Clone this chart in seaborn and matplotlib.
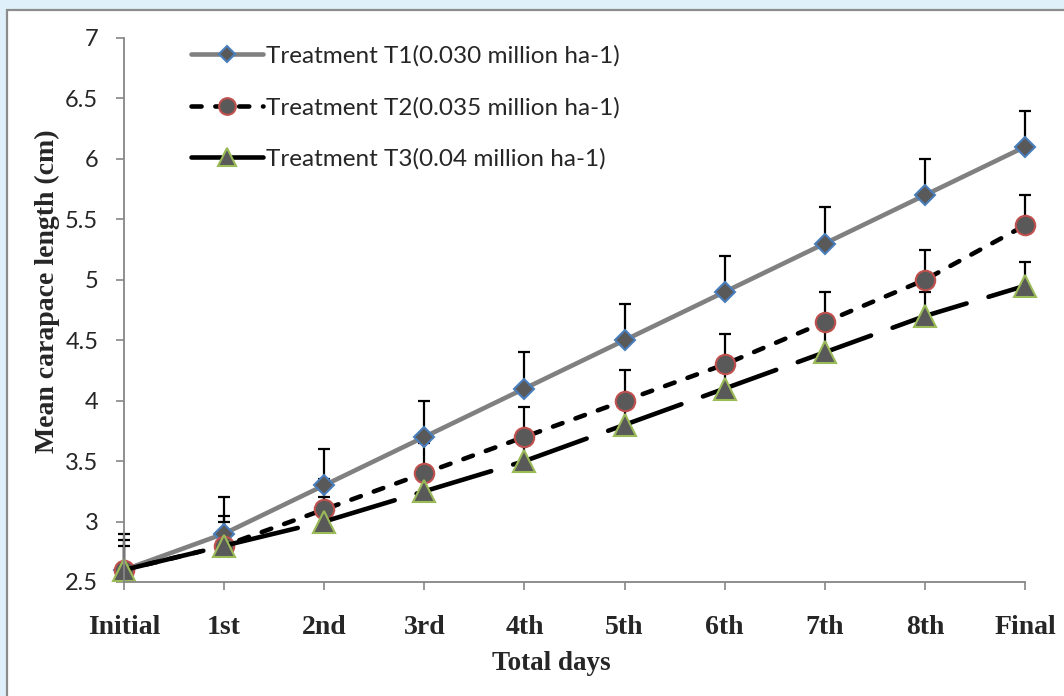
import seaborn as sns
import matplotlib.pyplot as plt
import matplotlib.patches as mpatches
import pandas as pd

days = ["Initial", "1st", "2nd", "3rd", "4th", "5th", "6th", "7th", "8th", "Final"]

t1_label = "Treatment T1(0.030 million ha-1)"
t2_label = "Treatment T2(0.035 million ha-1)"
t3_label = "Treatment T3(0.04 million ha-1)"

t1_mean = [2.6, 2.9, 3.3, 3.7, 4.1, 4.5, 4.9, 5.3, 5.7, 6.1]
t2_mean = [2.6, 2.8, 3.1, 3.4, 3.7, 4.0, 4.3, 4.65, 5.0, 5.45]
t3_mean = [2.6, 2.8, 3.0, 3.25, 3.5, 3.8, 4.1, 4.4, 4.7, 4.95]

t1_err = [0.3] * 10
t2_err = [0.25] * 10
t3_err = [0.2] * 10

y_ticks = [2.5, 3, 3.5, 4, 4.5, 5, 5.5, 6, 6.5, 7]

sns.set_style("white")
plt.rcParams["font.family"] = ["Lato", "DejaVu Sans"]

df = pd.DataFrame({"pos": range(len(days)), "day": days,
                   "T1": t1_mean, "T2": t2_mean, "T3": t3_mean})

fig = plt.figure(figsize=(10.64, 6.96), dpi=100)
fig.patch.set_facecolor("#DFF0FA")
# white chart panel with grey border
panel = mpatches.Rectangle((7 / 1064, -0.02), 1.1, 1 - 10 / 696 + 0.02,
                           transform=fig.transFigure, facecolor="white",
                           edgecolor="#8C8C8C", linewidth=1.6, zorder=-5)
fig.add_artist(panel)
ax = fig.add_axes([124 / 1064, 1 - 582 / 696, (1025 - 124) / 1064, (582 - 38) / 696])
ax.patch.set_alpha(0)

# error bars (upper only)
for means, errs in [(t1_mean, t1_err), (t2_mean, t2_err), (t3_mean, t3_err)]:
    ax.errorbar(df["pos"], means, yerr=[[0] * len(errs), errs], fmt="none",
                ecolor="black", elinewidth=1.6, capsize=4.3, capthick=1.6,
                zorder=1.5, clip_on=False)

face = "#595959"
sns.lineplot(data=df, x="pos", y="T1", ax=ax, color="#808080", linewidth=3.3,
             marker="D", markersize=10, markerfacecolor=face,
             markeredgecolor="#4A7EBB", markeredgewidth=1.5,
             label=t1_label, clip_on=False)
sns.lineplot(data=df, x="pos", y="T2", ax=ax, color="black", linewidth=3.3,
             linestyle=(0, (2.2, 3.0)), dash_capstyle="round",
             marker="o", markersize=14, markerfacecolor=face,
             markeredgecolor="#C0504D", markeredgewidth=1.5,
             label=t2_label, clip_on=False)
sns.lineplot(data=df, x="pos", y="T3", ax=ax, color="black", linewidth=3.3,
             linestyle=(0, (17, 5)), dash_capstyle="round",
             marker="^", markersize=16, markerfacecolor=face,
             markeredgecolor="#9BBB59", markeredgewidth=1.5,
             label=t3_label, clip_on=False)

ax.set_xlim(0, len(days) - 1)
ax.set_ylim(2.5, 7)
ax.set_xticks(df["pos"])
ax.set_xticklabels(days, family="Liberation Serif", fontweight="bold", fontsize=20)
ax.set_yticks(y_ticks)
ax.set_yticklabels([f"{v:g}" for v in y_ticks], fontsize=17)
ax.tick_params(axis="y", left=True, direction="out", length=5.5, width=1.2,
               color="#868686", pad=13)
ax.tick_params(axis="x", bottom=True, direction="out", length=5.5, width=1.2,
               color="#868686", pad=18)

for s in ["top", "right"]:
    ax.spines[s].set_visible(False)
for s in ["left", "bottom"]:
    ax.spines[s].set_color("#868686")
    ax.spines[s].set_linewidth(1.3)

ax.set_xlabel("Total days", family="Liberation Serif", fontweight="bold", fontsize=19.5)
ax.set_ylabel("Mean carapace length (cm)", family="Liberation Serif", fontweight="bold", fontsize=20)
ax.xaxis.set_label_coords((551 - 124) / (1025 - 124), -(651 - 582) / (582 - 38))
ax.yaxis.set_label_coords(-(124 - 60) / (1025 - 124), (582 - 291) / (582 - 38))

leg = ax.legend(loc="upper left", bbox_to_anchor=(191 / 1064, 1 - 45 / 696),
                bbox_transform=fig.transFigure, frameon=False, fontsize=17.5,
                handlelength=2.95, handletextpad=0.12, labelspacing=1.24,
                borderaxespad=0, borderpad=0)
for h, ms in zip(leg.legend_handles, [8.5, 12, 12.5]):
    h.set_markersize(ms)

fig.savefig("out.png", dpi=100, facecolor=fig.get_facecolor())
